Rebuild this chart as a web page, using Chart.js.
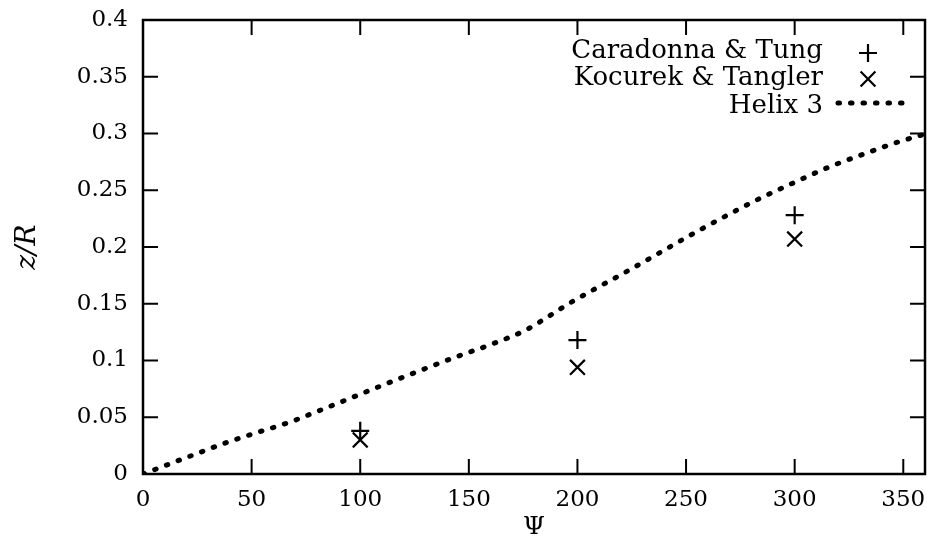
<!DOCTYPE html>
<html>
<head>
<meta charset="utf-8">
<script src="https://cdn.jsdelivr.net/npm/chart.js@4.4.1/dist/chart.umd.min.js"></script>
<style>
  html, body { margin: 0; padding: 0; background: #fff; }
  #wrap { width: 927px; height: 540px; }
</style>
</head>
<body>
<div id="wrap"><canvas id="c" width="927" height="540"></canvas></div>
<script>
// ---- data ----
const xTickValues = [0, 50, 100, 150, 200, 250, 300, 350];
const xTickLabels = ['0', '50', '100', '150', '200', '250', '300', '350'];
const yTickValues = [0, 0.05, 0.1, 0.15, 0.2, 0.25, 0.3, 0.35, 0.4];
const yTickLabels = ['0', '0.05', '0.1', '0.15', '0.2', '0.25', '0.3', '0.35', '0.4'];

const caradonnaPsi = [100, 200, 300];
const caradonnaZ   = [0.038, 0.118, 0.228];

const kocurekPsi = [100, 200, 300];
const kocurekZ   = [0.030, 0.094, 0.207];

const helixPsi = [0, 20, 37, 50, 68, 80, 95, 110, 122, 144, 160, 176, 186, 196, 208, 221, 237, 252, 268, 284, 300, 316, 332, 348, 360];
const helixZ   = [0, 0.0145, 0.0267, 0.035, 0.046, 0.055, 0.0664, 0.078, 0.087, 0.1031, 0.114, 0.1266, 0.138, 0.150, 0.163, 0.1766, 0.194, 0.2104, 0.227, 0.2428, 0.257, 0.2706, 0.282, 0.2927, 0.2995];

const seriesLabels = ['Caradonna & Tung', 'Kocurek & Tangler', 'Helix 3'];

const toPts = (xs, ys) => xs.map((x, i) => ({ x: x, y: ys[i] }));

const FONT = 'DejaVu Serif';

// inward ticks + frame
const framePlugin = {
  id: 'frame',
  afterDatasetsDraw(chart) {
    const { ctx, chartArea: a, scales } = chart;
    const tl = 15;
    ctx.save();
    ctx.strokeStyle = '#000';
    ctx.lineWidth = 2;
    ctx.beginPath();
    scales.x.ticks.forEach(t => {
      const px = scales.x.getPixelForValue(t.value);
      if (px <= a.left + 1 || px >= a.right - 1) return;
      ctx.moveTo(px, a.bottom); ctx.lineTo(px, a.bottom - tl);
      ctx.moveTo(px, a.top); ctx.lineTo(px, a.top + tl);
    });
    scales.y.ticks.forEach(t => {
      const py = scales.y.getPixelForValue(t.value);
      if (py <= a.top + 1 || py >= a.bottom - 1) return;
      ctx.moveTo(a.left, py); ctx.lineTo(a.left + tl, py);
      ctx.moveTo(a.right, py); ctx.lineTo(a.right - tl, py);
    });
    ctx.stroke();
    ctx.lineWidth = 2.5;
    ctx.strokeRect(a.left, a.top, a.right - a.left, a.bottom - a.top);
    ctx.restore();
  }
};

// legend in the top-right corner: text right-aligned, symbol to the right
const legendPlugin = {
  id: 'keyRight',
  afterDatasetsDraw(chart) {
    const { ctx } = chart;
    const textRight = 823;
    const symX = 868;
    const baselines = [58, 85, 113];
    const symY = [53, 79, 103];
    ctx.save();
    ctx.fillStyle = '#000';
    ctx.font = '26px "' + FONT + '"';
    ctx.textAlign = 'right';
    ctx.textBaseline = 'alphabetic';
    chart.data.datasets.forEach((ds, i) => {
      ctx.fillText(ds.label, textRight, baselines[i]);
      ctx.strokeStyle = '#000';
      ctx.lineWidth = ds.borderWidth;
      if (ds.showLine) {
        ctx.lineCap = 'round';
        ctx.setLineDash(ds.borderDash);
        ctx.beginPath();
        ctx.moveTo(838, symY[i]);
        ctx.lineTo(904, symY[i]);
        ctx.stroke();
        ctx.setLineDash([]);
      } else {
        Chart.helpers.drawPoint(ctx, {
          pointStyle: ds.pointStyle,
          radius: ds.pointRadius,
          borderWidth: ds.borderWidth,
          rotation: 0
        }, symX, symY[i]);
      }
    });
    ctx.restore();
  }
};

new Chart(document.getElementById('c'), {
  type: 'scatter',
  data: {
    datasets: [
      {
        label: seriesLabels[0],
        data: toPts(caradonnaPsi, caradonnaZ),
        pointStyle: 'cross',
        pointRadius: 9,
        borderWidth: 2.2,
        borderColor: '#000',
        backgroundColor: '#000',
        showLine: false
      },
      {
        label: seriesLabels[1],
        data: toPts(kocurekPsi, kocurekZ),
        pointStyle: 'crossRot',
        pointRadius: 10.5,
        borderWidth: 2.2,
        borderColor: '#000',
        backgroundColor: '#000',
        showLine: false
      },
      {
        label: seriesLabels[2],
        data: toPts(helixPsi, helixZ),
        showLine: true,
        pointRadius: 0,
        borderColor: '#000',
        borderWidth: 5,
        borderDash: [1.5, 11],
        borderCapStyle: 'round',
        cubicInterpolationMode: 'monotone',
        fill: false
      }
    ]
  },
  options: {
    responsive: false,
    animation: false,
    layout: { autoPadding: false, padding: { top: 20, right: 2, left: 0, bottom: 0 } },
    plugins: {
      legend: { display: false },
      tooltip: { enabled: false }
    },
    scales: {
      x: {
        type: 'linear',
        min: 0,
        max: 360,
        afterBuildTicks(scale) { scale.ticks = xTickValues.map(v => ({ value: v })); },
        afterFit(scale) { scale.height = 66; scale.paddingLeft = 0; scale.paddingRight = 0; },
        grid: { display: false, drawTicks: false, tickLength: 0 },
        border: { display: false },
        ticks: {
          color: '#000',
          padding: 12,
          maxRotation: 0,
          autoSkip: false,
          font: { family: FONT, size: 23 },
          callback: (v) => { const i = xTickValues.indexOf(v); return i >= 0 ? xTickLabels[i] : ''; }
        },
        title: {
          display: true,
          text: 'Ψ',
          color: '#000',
          padding: { top: 0, bottom: 0 },
          font: { family: FONT, size: 25, lineHeight: 1 }
        }
      },
      y: {
        type: 'linear',
        min: 0,
        max: 0.4,
        afterBuildTicks(scale) { scale.ticks = yTickValues.map(v => ({ value: v })); },
        afterFit(scale) { scale.width = 143; scale.paddingTop = 0; scale.paddingBottom = 0; },
        grid: { display: false, drawTicks: false, tickLength: 0 },
        border: { display: false },
        ticks: {
          color: '#000',
          padding: 15,
          autoSkip: false,
          font: { family: FONT, size: 23 },
          callback: (v) => { const i = yTickValues.findIndex(t => Math.abs(t - v) < 1e-9); return i >= 0 ? yTickLabels[i] : ''; }
        },
        title: {
          display: true,
          text: 'z/R',
          color: '#000',
          padding: { top: 11, bottom: 0 },
          font: { family: FONT, size: 28, style: 'italic', lineHeight: 1.2 }
        }
      }
    }
  },
  plugins: [framePlugin, legendPlugin]
});
</script>
</body>
</html>
